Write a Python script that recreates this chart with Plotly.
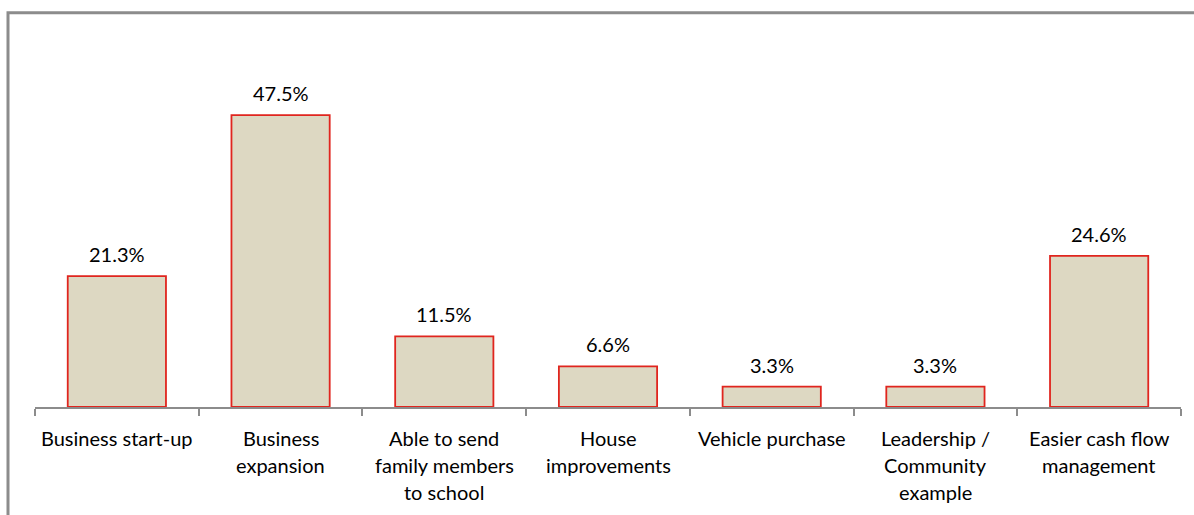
import plotly.graph_objects as go

categories = ["Business start-up", "Business\nexpansion", "Able to send\nfamily members\nto school",
              "House\nimprovements", "Vehicle purchase", "Leadership /\nCommunity\nexample",
              "Easier cash flow\nmanagement"]
values = [21.3, 47.5, 11.5, 6.6, 3.3, 3.3, 24.6]
value_labels = ["21.3%", "47.5%", "11.5%", "6.6%", "3.3%", "3.3%", "24.6%"]

FONT = "Lato"
FS = 20
W, H = 1194, 515
x0, x1 = 35, 1181
ybot = 407
ymax = 55.0
ytop = ybot - ymax * 6.14

xs = list(range(len(categories)))

fig = go.Figure()
fig.add_trace(go.Bar(
    x=xs, y=values,
    marker=dict(color="#DDD8C2", line=dict(color="#E0251E", width=1.8)),
    width=0.6, hoverinfo="skip",
))

annotations = []
for i, (v, lab) in enumerate(zip(values, value_labels)):
    annotations.append(dict(x=i, y=v, xref="x", yref="y", text=lab, showarrow=False,
                            yshift=22, font=dict(family=FONT, size=FS, color="#000000")))
for i, cat in enumerate(categories):
    for j, line in enumerate(cat.split("\n")):
        annotations.append(dict(x=i, y=0, xref="x", yref="y", text=line, showarrow=False,
                                yshift=-(31 + 27 * j), font=dict(family=FONT, size=FS, color="#000000")))

fig.update_layout(
    width=W, height=H,
    margin=dict(l=x0, r=W - x1, t=ytop, b=H - ybot),
    paper_bgcolor="white", plot_bgcolor="white",
    showlegend=False,
    annotations=annotations,
    xaxis=dict(range=[-0.5, len(categories) - 0.5], showticklabels=False, showgrid=False,
               zeroline=False, showline=True, linecolor="#8C8C8C", linewidth=2,
               tickmode="array", tickvals=[i - 0.5 for i in range(len(categories) + 1)],
               ticks="outside", ticklen=7, tickcolor="#8C8C8C", tickwidth=2),
    yaxis=dict(range=[0, ymax], visible=False),
)
# outer chart border (extends beyond viewport on right and bottom)
fig.add_shape(type="rect", xref="paper", yref="paper",
              x0=-(x0 - 8) / (x1 - x0), x1=(W + 10 - x0) / (x1 - x0),
              y0=-(H + 10 - ybot) / (ybot - ytop), y1=1 + (ytop - 13) / (ybot - ytop),
              line=dict(color="#8C8C8C", width=3), layer="below")
fig.write_html("out.html")
